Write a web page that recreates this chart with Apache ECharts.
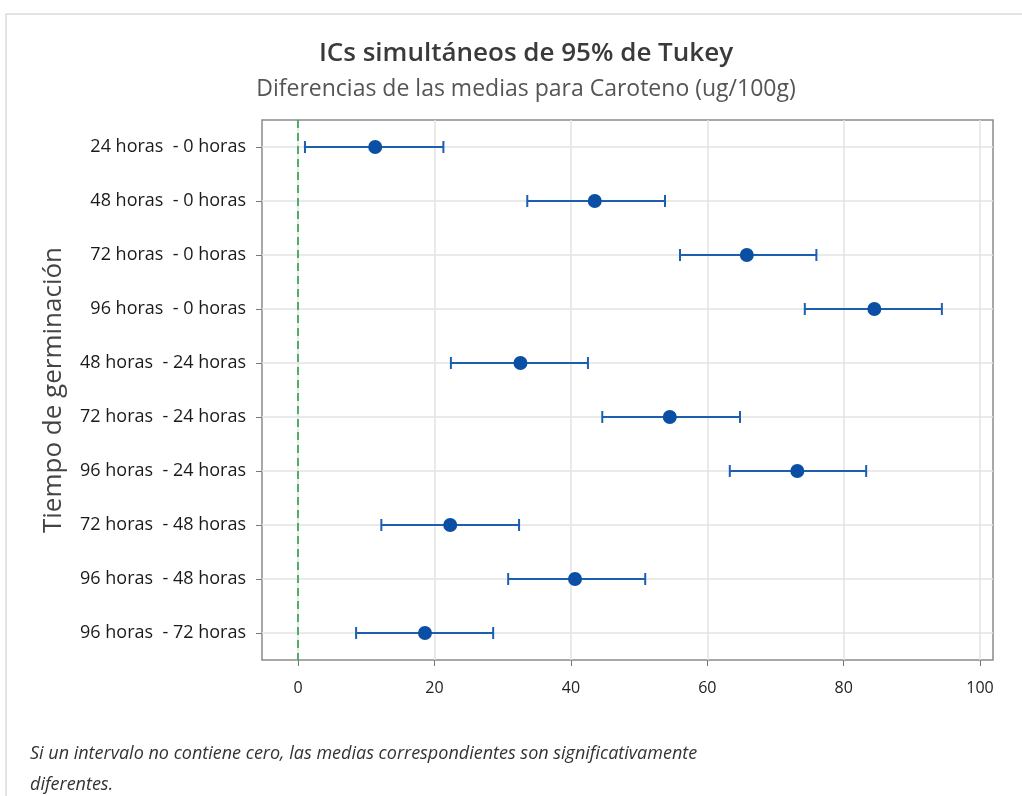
<!DOCTYPE html>
<html>
<head>
    <meta charset="utf-8">
    <title>ICs simultáneos de 95% de Tukey</title>
    <script src="https://cdn.jsdelivr.net/npm/echarts@6/dist/echarts.min.js"></script>
    <style>
        body { margin: 0; background: #fff; }
    </style>
</head>
<body>
    <div id="main" style="width: 1022px;height:796px;"></div>
    <script type="text/javascript">
        var myChart = echarts.init(document.getElementById('main'));

        // comparaciones (de arriba a abajo)
        var categories = [
            '24 horas  - 0 horas',
            '48 horas  - 0 horas',
            '72 horas  - 0 horas',
            '96 horas  - 0 horas',
            '48 horas  - 24 horas',
            '72 horas  - 24 horas',
            '96 horas  - 24 horas',
            '72 horas  - 48 horas',
            '96 horas  - 48 horas',
            '96 horas  - 72 horas'
        ];
        // diferencia de medias y limites del intervalo
        var means = [11.3, 43.5, 65.8, 84.5, 32.6, 54.5, 73.2, 22.3, 40.6, 18.6];
        var lower = [1.0, 33.6, 56.0, 74.3, 22.4, 44.6, 63.3, 12.2, 30.8, 8.5];
        var upper = [21.3, 53.8, 76.0, 94.4, 42.5, 64.8, 83.3, 32.4, 50.9, 28.6];
        var xTicks = [0, 20, 40, 60, 80, 100];

        var font = '"Open Sans", "Noto Sans", sans-serif';
        var blue = '#1c5fae';

        var rowIdx = categories.map(function (c, i) { return i; });
        var intervals = categories.map(function (c, i) {
            return [i, lower[i], upper[i]];
        });
        var points = categories.map(function (c, i) {
            return [means[i], i];
        });

        var option = {
            animation: false,
            title: {
                text: 'ICs simultáneos de 95% de Tukey',
                subtext: 'Diferencias de las medias para Caroteno (ug/100g)',
                left: 521,
                textAlign: 'center',
                top: 36,
                itemGap: 11,
                textStyle: { fontFamily: font, fontSize: 26, fontWeight: 600, color: '#3a3a3a' },
                subtextStyle: { fontFamily: font, fontSize: 23, color: '#555' }
            },
            grid: {
                left: 262, right: 29, top: 120, bottom: 136,
                show: true, borderColor: '#8a8a8a', borderWidth: 1.5
            },
            xAxis: {
                type: 'value',
                min: -5.3,
                max: 101.9,
                axisLine: { show: false, onZero: false },
                axisTick: { show: true, customValues: xTicks, length: 6, lineStyle: { color: '#777' } },
                axisLabel: { customValues: xTicks, fontFamily: font, fontSize: 16, color: '#222', margin: 20 },
                splitLine: { show: true, lineStyle: { color: '#e3e3e3', width: 1.5 } }
            },
            yAxis: {
                type: 'value',
                min: -0.5,
                max: 9.5,
                inverse: true,
                name: 'Tiempo de germinación',
                nameLocation: 'middle',
                nameGap: 195,
                nameTextStyle: { fontFamily: font, fontSize: 26, color: '#444' },
                axisLine: { show: false, onZero: false },
                axisTick: { show: true, customValues: rowIdx, length: 6, lineStyle: { color: '#777' } },
                axisLabel: {
                    customValues: rowIdx,
                    fontFamily: font, fontSize: 18, color: '#1a1a1a', margin: 16,
                    formatter: function (v) { return categories[Math.round(v)]; }
                },
                splitLine: { show: true, lineStyle: { color: '#e3e3e3', width: 1.5 } }
            },
            series: [{
                type: 'custom',
                data: intervals,
                renderItem: function (params, api) {
                    var y = api.value(0);
                    var a = api.coord([api.value(1), y]);
                    var b = api.coord([api.value(2), y]);
                    var h = 6;
                    var style = { stroke: blue, lineWidth: 2 };
                    return {
                        type: 'group',
                        children: [
                            { type: 'line', shape: { x1: a[0], y1: a[1], x2: b[0], y2: b[1] }, style: style },
                            { type: 'line', shape: { x1: a[0], y1: a[1] - h, x2: a[0], y2: a[1] + h }, style: style },
                            { type: 'line', shape: { x1: b[0], y1: b[1] - h, x2: b[0], y2: b[1] + h }, style: style }
                        ]
                    };
                },
                encode: { x: [1, 2], y: 0 },
                z: 3
            }, {
                type: 'scatter',
                data: points,
                symbol: 'circle',
                symbolSize: 14,
                itemStyle: { color: '#0a4fa3', opacity: 1 },
                z: 4,
                markLine: {
                    silent: true,
                    symbol: 'none',
                    label: { show: false },
                    lineStyle: { color: '#1e9a3c', type: [8, 5], width: 1.5 },
                    data: [{ xAxis: 0 }]
                }
            }],
            graphic: [{
                type: 'rect',
                shape: { x: 6, y: 14, width: 1030, height: 800 },
                style: { fill: 'none', stroke: '#dcdcdc', lineWidth: 1.5 },
                silent: true
            }, {
                type: 'text',
                left: 30,
                top: 738,
                style: {
                    text: 'Si un intervalo no contiene cero, las medias correspondientes son significativamente\ndiferentes.',
                    font: 'italic 18px ' + font,
                    fill: '#333',
                    lineHeight: 31
                }
            }]
        };
        myChart.setOption(option);
    </script>
</body>
</html>
